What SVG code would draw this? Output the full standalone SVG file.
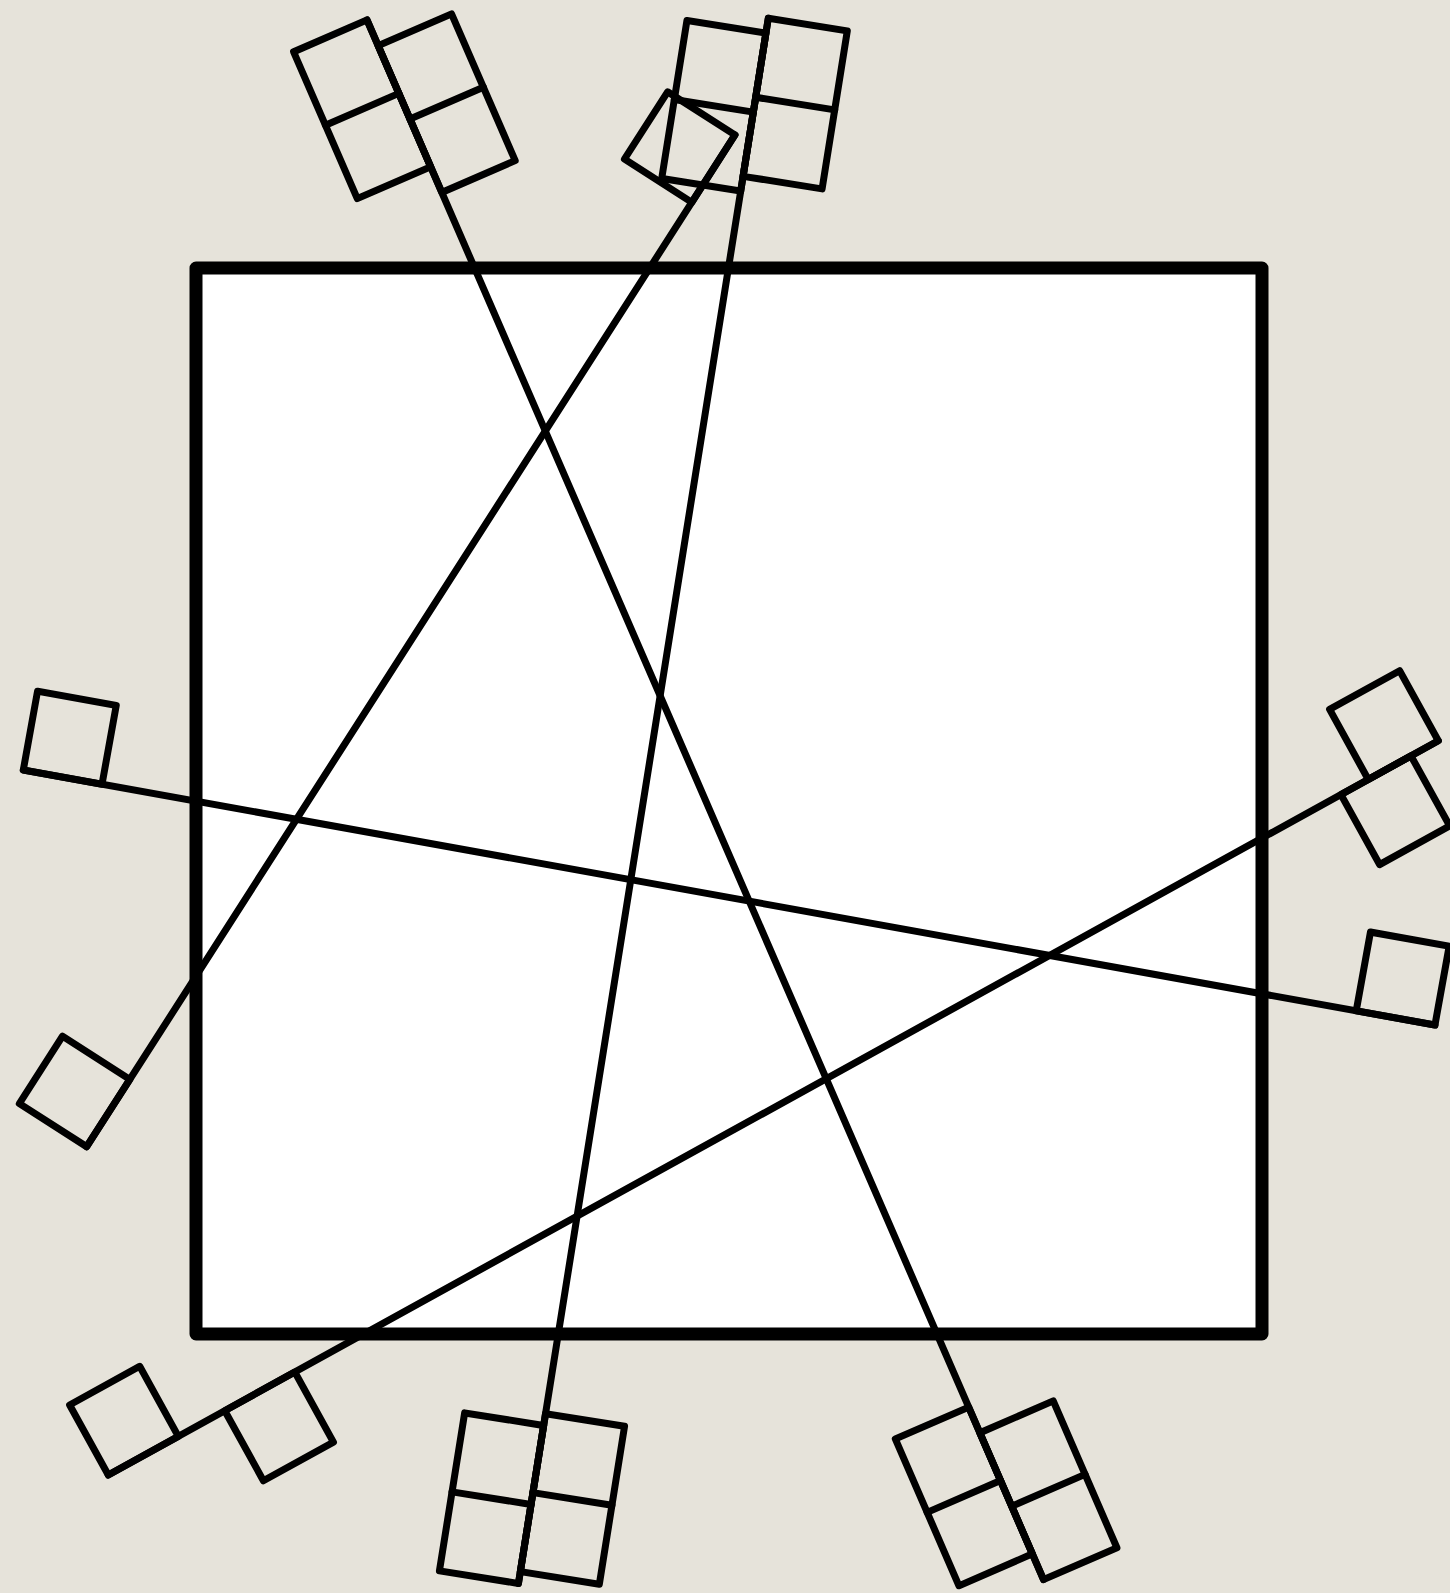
<svg xmlns="http://www.w3.org/2000/svg" width="1450" height="1593" viewBox="0 0 1450 1593">
<style>
.s{fill:none;stroke:#000;stroke-width:7;stroke-linejoin:round;stroke-linecap:round}
.main{fill:#fff;stroke:#000;stroke-width:13;stroke-linejoin:round}
</style>
<rect x="0" y="0" width="1450" height="1593" fill="#e6e3da"/>
<g id="frame"><rect class="main" x="196" y="268" width="1066" height="1066"/></g>
<g id="lines">
<g id="lineA" transform="translate(367,20) rotate(66.55)">
<line class="s" x1="0" y1="0" x2="1700" y2="0"/>
<rect class="s" x="0" y="0" width="160" height="80"/><line class="s" x1="80" y1="0" x2="80" y2="80"/>
<rect class="s" x="28" y="-80" width="160" height="80"/><line class="s" x1="108" y1="-80" x2="108" y2="0"/>
<rect class="s" x="1512" y="0" width="160" height="80"/><line class="s" x1="1592" y1="0" x2="1592" y2="80"/>
<rect class="s" x="1540" y="-80" width="160" height="80"/><line class="s" x1="1620" y1="-80" x2="1620" y2="0"/>
</g>
<g id="lineC" transform="translate(768.3,18.3) rotate(99.07)">
<line class="s" x1="0" y1="0" x2="1585" y2="0"/>
<rect class="s" x="0" y="-80" width="160" height="80"/><line class="s" x1="80" y1="-80" x2="80" y2="0"/>
<rect class="s" x="15" y="0" width="160" height="80"/><line class="s" x1="95" y1="0" x2="95" y2="80"/>
<rect class="s" x="1425" y="0" width="160" height="80"/><line class="s" x1="1505" y1="0" x2="1505" y2="80"/>
<rect class="s" x="1413" y="-80" width="160" height="80"/><line class="s" x1="1493" y1="-80" x2="1493" y2="0"/>
</g>
<g id="lineB" transform="translate(86.7,1146.7) rotate(-57.35)">
<line class="s" x1="0" y1="0" x2="1201.6" y2="0"/>
<rect class="s" x="0" y="-80" width="80" height="80"/>
<rect class="s" x="1121.6" y="-80" width="80" height="80"/>
</g>
<g id="lineD" transform="translate(23.3,770) rotate(10.24)">
<line class="s" x1="0" y1="0" x2="1434.5" y2="0"/>
<rect class="s" x="0" y="-80" width="80" height="80"/>
<rect class="s" x="1354.5" y="-80" width="80" height="80"/>
</g>
<g id="lineE" transform="translate(108.3,1475) rotate(-28.9)">
<line class="s" x1="0" y1="0" x2="1519.2" y2="0"/>
<rect class="s" x="0" y="-80" width="80" height="80"/>
<rect class="s" x="133" y="0" width="80" height="80"/>
<rect class="s" x="1439.2" y="-80" width="80" height="80"/>
<rect class="s" x="1408" y="0" width="80" height="80"/>
</g>
</g>
</svg>
